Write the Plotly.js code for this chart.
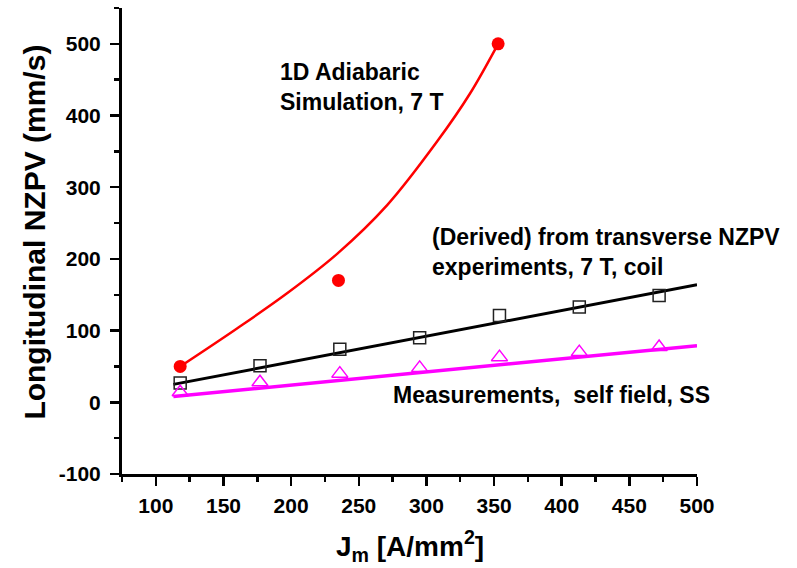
<!DOCTYPE html>
<html>
<head>
<meta charset="utf-8">
<script src="https://cdn.plot.ly/plotly-3.0.1.min.js"></script>
<style>html,body{margin:0;padding:0;background:#fff;}#chart{width:797px;height:568px;}</style>
</head>
<body>
<div id="chart"></div>
<script>
// Data
const simX = [118, 235, 353];
const simY = [50, 170, 500];
const simCurveX = [118, 160, 197, 234, 271, 308, 332, 353];
const simCurveY = [50, 103, 152, 207, 275, 364, 430, 500];

const derivedX = [118, 177, 236, 295, 354, 413, 472];
const derivedY = [27, 51, 74, 90, 121, 133, 149];
const derivedFitX = [113, 500];
const derivedFitY = [25, 164];

const measX = [118, 177, 236, 295, 354, 413, 472];
const measY = [14, 28, 40, 48, 63, 70, 77];
const measFitX = [113, 500];
const measFitY = [8, 79];

const xTicks = [100, 150, 200, 250, 300, 350, 400, 450, 500];
const yTicks = [-100, 0, 100, 200, 300, 400, 500];

const FONT = '"Liberation Sans", Arial, sans-serif';

const traces = [
  {x: simCurveX, y: simCurveY, mode: 'lines', line: {color: '#ff0000', width: 2.5, shape: 'spline', smoothing: 1}, hoverinfo: 'skip'},
  {x: simX, y: simY, mode: 'markers', marker: {symbol: 'circle', size: 13, color: '#ff0000'}},
  {x: derivedFitX, y: derivedFitY, mode: 'lines', line: {color: '#000000', width: 3}},
  {x: derivedX, y: derivedY, mode: 'markers', marker: {symbol: 'square-open', size: 12, color: '#222222', line: {width: 1.5}}},
  {x: measFitX, y: measFitY, mode: 'lines', line: {color: '#ff00ff', width: 3.5}},
  {x: measX, y: measY, mode: 'markers', marker: {symbol: 'triangle-up-open', size: 14, color: '#ff00ff', line: {width: 1.5}}}
];

const layout = {
  width: 797, height: 568,
  margin: {l: 122, r: 100, t: 8, b: 94, pad: 0},
  paper_bgcolor: '#ffffff', plot_bgcolor: '#ffffff',
  showlegend: false,
  font: {family: FONT, color: '#000000'},
  xaxis: {
    range: [75, 500], showgrid: false, zeroline: false,
    showline: true, linecolor: '#000', linewidth: 3,
    tickmode: 'array', tickvals: xTicks, ticktext: xTicks.map(String),
    ticks: 'outside', ticklen: 9, tickwidth: 2.5, tickcolor: '#000',
    ticklabelstandoff: 2,
    tickfont: {family: FONT, size: 21, color: '#000', weight: 'bold'},
    minor: {dtick: 25, tick0: 0, ticks: 'outside', ticklen: 5, tickwidth: 2.5, tickcolor: '#000'}
  },
  yaxis: {
    range: [-100, 550], showgrid: false, zeroline: false,
    showline: true, linecolor: '#000', linewidth: 3,
    tickmode: 'array', tickvals: yTicks, ticktext: yTicks.map(String),
    ticks: 'outside', ticklen: 9, tickwidth: 2.5, tickcolor: '#000',
    ticklabelstandoff: 5,
    tickfont: {family: FONT, size: 21, color: '#000', weight: 'bold'},
    minor: {dtick: 50, tick0: 0, ticks: 'outside', ticklen: 5, tickwidth: 2.5, tickcolor: '#000'}
  },
  annotations: [
    {xref: 'x', yref: 'y', x: 190, y: 440, xanchor: 'left', yanchor: 'middle', align: 'left', showarrow: false,
     text: '1D Adiabaric<br>Simulation, 7 T', font: {family: FONT, size: 23, weight: 'bold', color: '#000'}},
    {xref: 'x', yref: 'y', x: 303, y: 209, xanchor: 'left', yanchor: 'middle', align: 'left', showarrow: false,
     text: '(Derived) from transverse NZPV<br>experiments, 7 T, coil', font: {family: FONT, size: 23, weight: 'bold', color: '#000'}},
    {xref: 'x', yref: 'y', x: 274, y: 10, xanchor: 'left', yanchor: 'middle', align: 'left', showarrow: false,
     text: 'Measurements,&nbsp; self field, SS', font: {family: FONT, size: 23, weight: 'bold', color: '#000'}},
    {xref: 'paper', yref: 'paper', x: -0.1513, y: 0.518, xanchor: 'center', yanchor: 'middle', textangle: -90, showarrow: false,
     text: 'Longitudinal NZPV (mm/s)', font: {family: FONT, size: 30, weight: 'bold', color: '#000'}},
    {xref: 'paper', yref: 'paper', x: 0.5, y: -0.155, xanchor: 'center', yanchor: 'middle', showarrow: false,
     text: 'J<sub>m</sub> [A/mm<sup>2</sup>]', font: {family: FONT, size: 28, weight: 'bold', color: '#000'}}
  ]
};

Plotly.newPlot('chart', traces, layout, {displayModeBar: false, staticPlot: true});
</script>
</body>
</html>
